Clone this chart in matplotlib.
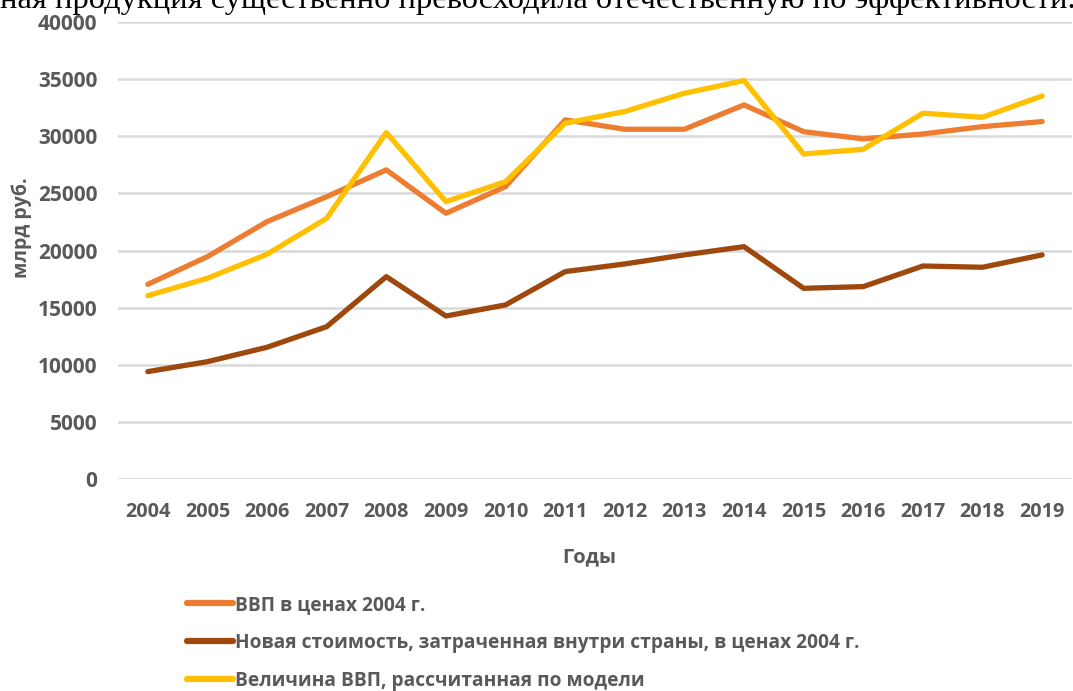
import matplotlib
matplotlib.use("Agg")
import matplotlib.pyplot as plt

plt.rcParams.update({
    "font.family": ["Open Sans", "DejaVu Sans"],
    "font.weight": "bold",
    "axes.spines.top": False,
    "axes.spines.right": False,
    "axes.spines.left": False,
    "axes.spines.bottom": False,
})

years = ["2004", "2005", "2006", "2007", "2008", "2009", "2010", "2011",
         "2012", "2013", "2014", "2015", "2016", "2017", "2018", "2019"]

gdp_2004 = [17050, 19470, 22530, 24710, 27050, 23260, 25590, 31420,
            30600, 30600, 32730, 30390, 29760, 30190, 30830, 31270]
new_value = [9420, 10290, 11550, 13350, 17720, 14280, 15250, 18160,
             18830, 19620, 20340, 16700, 16850, 18650, 18540, 19620]
gdp_model = [16060, 17580, 19680, 22820, 30310, 24280, 26020, 31130,
             32150, 33750, 34850, 28440, 28850, 32000, 31650, 33510]

labels = ["ВВП в ценах 2004 г.",
          "Новая стоимость, затраченная внутри страны, в ценах 2004 г.",
          "Величина ВВП, рассчитанная по модели"]
colors = ["#ED7D31", "#9E480E", "#FFC000"]

TICK = "#595959"

fig = plt.figure(figsize=(10.73, 6.91), dpi=100)
ax = fig.add_axes([0.110, 0.3062, 0.889, 0.6624])

x = list(range(len(years)))
for series, lab, col in zip([gdp_2004, new_value, gdp_model], labels, colors):
    ax.plot(x, series, color=col, linewidth=3.8, label=lab,
            solid_joinstyle="round", solid_capstyle="round")

ax.set_xlim(-0.5, len(years) - 0.5)
ax.set_ylim(0, 40000)
ax.set_yticks(range(0, 40001, 5000))
ax.set_xticks(x)
ax.set_xticklabels(years)
ax.grid(axis="y", color="#D9D9D9", linewidth=1.8)
ax.set_axisbelow(True)
ax.tick_params(axis="x", length=0, labelsize=14.3, colors=TICK, pad=16)
ax.tick_params(axis="y", length=0, labelsize=15, colors=TICK, pad=15)
for t in ax.get_xticklabels() + ax.get_yticklabels():
    t.set_fontweight("bold")

fig.text(22 / 1073, 1 - 228 / 691, "млрд руб.", rotation=90, ha="center",
         va="center", fontsize=14, color=TICK, fontweight="bold")
fig.text(589 / 1073, 1 - 557 / 691, "Годы", ha="center", va="center",
         fontsize=14.5, color=TICK, fontweight="bold")

# cut-off sentence from the surrounding document
fig.text(0, 1 - 8 / 691, "ная продукция существенно превосходила отечественную по эффективности.",
         ha="left", va="baseline", fontsize=23.4, family="Liberation Serif",
         fontweight="normal", color="black")

leg = fig.legend(loc="upper left", bbox_to_anchor=(187 / 1073, 1 - 595 / 691),
                 frameon=False, fontsize=13.8, handlelength=2.4, handletextpad=0.1,
                 labelspacing=0.93, borderpad=0, borderaxespad=0)
for txt in leg.get_texts():
    txt.set_color(TICK)
    txt.set_fontweight("bold")
for h in leg.legend_handles:
    h.set_linewidth(4.5)

fig.savefig("out.png", dpi=100)
